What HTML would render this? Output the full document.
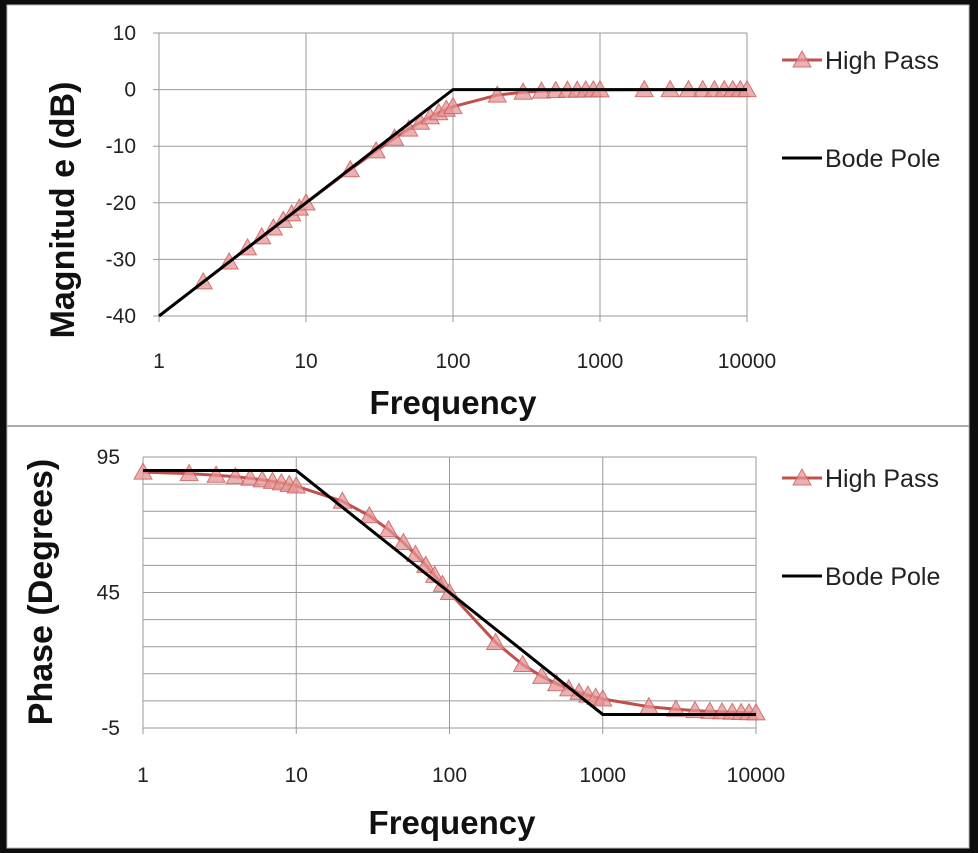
<!DOCTYPE html>
<html><head><meta charset="utf-8"><style>
body{margin:0;background:#0d0d0d;width:978px;height:853px;overflow:hidden}
svg{display:block;font-family:"Liberation Sans",sans-serif}
</style></head><body>
<svg id="s" width="978" height="853">
<rect x="7" y="5" width="962" height="843" fill="#fff" stroke="#bbb"/>
<line x1="7" y1="426" x2="969" y2="426" stroke="#aaa" stroke-width="2"/>
</svg>
<script>
const freqMag=[2,3,4,5,6,7,8,9,10,20,30,40,50,60,70,80,90,100,200,300,400,500,600,700,800,900,1000,2000,3000,4000,5000,6000,7000,8000,9000,10000];
const highPassMag=[-33.98,-30.46,-27.96,-26.03,-24.45,-23.11,-21.96,-20.94,-20.04,-14.15,-10.83,-8.60,-6.99,-5.77,-4.82,-4.08,-3.47,-3.01,-0.97,-0.46,-0.26,-0.17,-0.12,-0.09,-0.07,-0.05,-0.04,-0.01,0,0,0,0,0,0,0,0];
const bodeMagFreq=[1,100,10000];
const bodeMag=[-40,0,0];
const freqPhase=[1,2,3,4,5,6,7,8,9,10,20,30,40,50,60,70,80,90,100,200,300,400,500,600,700,800,900,1000,2000,3000,4000,5000,6000,7000,8000,9000,10000];
const highPassPhase=[89.43,88.85,88.28,87.71,87.14,86.57,86.00,85.43,84.86,84.29,78.69,73.30,68.20,63.43,59.04,55.01,51.34,48.01,45,26.57,18.43,14.04,11.31,9.46,8.13,7.13,6.34,5.71,2.86,1.91,1.43,1.15,0.95,0.82,0.72,0.64,0.57];
const bodePhaseFreq=[1,10,1000,10000];
const bodePhase=[90,90,0,0];
const xTicks=["1","10","100","1000","10000"];
const magTicks=[10,0,-10,-20,-30,-40];
const phaseTicks=[95,45,-5];

const S=document.getElementById('s');const NS='http://www.w3.org/2000/svg';
function el(t,a,txt){const e=document.createElementNS(NS,t);for(const k in a)e.setAttribute(k,a[k]);if(txt!==undefined)e.textContent=txt;S.appendChild(e);return e;}

function chart(cfg){
  const X=f=>cfg.x0+Math.log10(f)*cfg.dec;
  const Y=v=>cfg.yTop+(cfg.vmax-v)/(cfg.vmax-cfg.vmin)*(cfg.yBot-cfg.yTop);
  const xR=cfg.x0+4*cfg.dec;
  for(let v=cfg.vmin;v<=cfg.vmax;v+=cfg.gstep){
    const g=el('line',{x1:cfg.x0-(v%cfg.tstep===0||cfg.tstep===cfg.gstep?6:0),x2:xR,y1:Y(v),y2:Y(v),stroke:'#9a9a9a','stroke-width':1});
    
    
  }
  xTicks.forEach((t,i)=>{
    const g=el('line',{x1:X(+t),x2:X(+t),y1:cfg.yTop,y2:cfg.yBot+6,stroke:'#9a9a9a','stroke-width':1});
    
    
    const l=el('text',{x:X(+t),y:cfg.xLabY,'font-size':21,'text-anchor':'middle',fill:'#222'},t);
    
    
  });
  cfg.yTicks.forEach(v=>{
    const l=el('text',{x:cfg.yLabX,y:Y(v)+7,'font-size':21,'text-anchor':'end',fill:'#222'},String(v));
    
    
  });
  const hp=el('polyline',{points:cfg.f.map((f,i)=>X(f)+','+Y(cfg.hp[i])).join(' '),fill:'none',stroke:'#c0504d','stroke-width':3});
  
  
  cfg.f.forEach((f,i)=>{
    const x=X(f),y=Y(cfg.hp[i]);
    const m=el('polygon',{points:`${x},${y-9} ${x+9},${y+7} ${x-9},${y+7}`,fill:'rgba(230,150,150,0.75)',stroke:'rgba(200,90,90,0.8)','stroke-width':1});
    
    
  });
  const bp=el('polyline',{points:cfg.bf.map((f,i)=>X(f)+','+Y(cfg.bv[i])).join(' '),fill:'none',stroke:'#000','stroke-width':3});
  
  
  const xt=el('text',{x:cfg.xtX,y:cfg.xtY,'font-size':33,'font-weight':'bold','text-anchor':'middle',fill:'#111'},'Frequency');
  
  
  const yt=el('text',{x:0,y:0,'font-size':34,'font-weight':'bold','text-anchor':'middle',fill:'#111',transform:`translate(${cfg.ytX},${cfg.ytY}) rotate(-90)`},cfg.yTitle);
  
  
  const ly1=cfg.legY1,ly2=cfg.legY2;
  const l1=el('line',{x1:782,x2:822,y1:ly1,y2:ly1,stroke:'#c0504d','stroke-width':3});
  
  
  const lm=el('polygon',{points:`802,${ly1-9} 811,${ly1+7} 793,${ly1+7}`,fill:'rgba(230,150,150,0.75)',stroke:'rgba(200,90,90,0.8)'});
  
  
  const t1=el('text',{x:825,y:ly1+9,'font-size':25,fill:'#222'},'High Pass');
  
  
  const l2=el('line',{x1:782,x2:822,y1:ly2,y2:ly2,stroke:'#000','stroke-width':3});
  
  
  const t2=el('text',{x:825,y:ly2+9,'font-size':25,fill:'#222'},'Bode Pole');
  
  
}
chart({x0:159,dec:147,yTop:33,yBot:316,vmax:10,vmin:-40,gstep:10,tstep:10,yTicks:magTicks,yLabX:136,xLabY:368,
  f:freqMag,hp:highPassMag,bf:bodeMagFreq,bv:bodeMag,xtX:453,xtY:414,ytX:74,ytY:210,yTitle:'Magnitud e (dB)',legY1:60,legY2:158});
chart({x0:143,dec:153.25,yTop:457,yBot:728,vmax:95,vmin:-5,gstep:10,tstep:50,yTicks:phaseTicks,yLabX:120,xLabY:782,
  f:freqPhase,hp:highPassPhase,bf:bodePhaseFreq,bv:bodePhase,xtX:452,xtY:834,ytX:52,ytY:592,yTitle:'Phase (Degrees)',legY1:478,legY2:576});
</script>
</body></html>
